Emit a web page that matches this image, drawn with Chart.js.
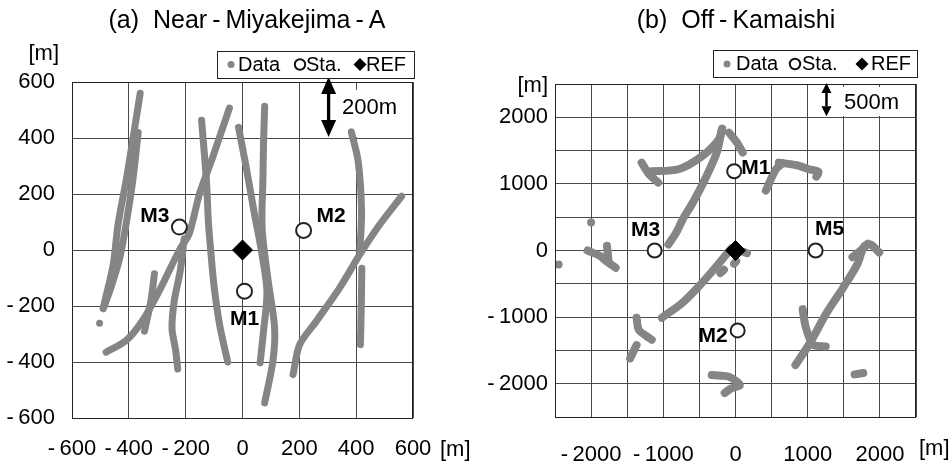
<!DOCTYPE html>
<html lang="en">
<head>
<meta charset="UTF-8">
<title>Near-Miyakejima-A / Off-Kamaishi</title>
<script src="https://cdn.jsdelivr.net/npm/chart.js"></script>
<style>
    body { margin: 0; background: #fff; }
    .panel { position: absolute; top: 0; width: 476px; height: 467px; }
    #panelA { left: 0; }
    #panelB { left: 476px; }
</style>
</head>
<body>
<div class="panel" id="panelA"><canvas id="chartA" width="476" height="467"></canvas></div>
<div class="panel" id="panelB"><canvas id="chartB" width="476" height="467"></canvas></div>

<script>
// ---------- data ----------
const legendLabels = ['Data', 'Sta.', 'REF'];

// (a) Near-Miyakejima-A
const titleA = '(a)  Near\u2009-\u2009Miyakejima\u2009-\u2009A';
const rangeA = { min: -600, max: 600, step: 200, labelStep: 200 };
const trackA1 = [[-360, 560], [-385, 400], [-408, 257], [-438, 91], [-455, -52], [-490, -207]];
const trackA2 = [[-367, 420], [-385, 257], [-408, 103], [-432, -28], [-465, -140], [-490, -210]];
const trackA3 = [[-480, -365], [-409, -323], [-351, -251], [-292, -144], [-222, 0], [-187, 60], [-151, 202], [-105, 331], [-46, 507]];
const trackA4 = [[-144, 463], [-127, 250], [-120, 100], [-112, 0], [-100, -130], [-80, -270], [-52, -400]];
const trackA5 = [[-205, 40], [-220, -80], [-240, -180], [-248, -280], [-235, -360], [-228, -425]];
const trackA6 = [[-310, -85], [-322, -180], [-345, -290]];
const trackA7 = [[-14, 438], [13, 296], [40, 140], [66, 0], [86, -147], [74, -290], [62, -403]];
const trackA8 = [[78, 513], [74, 380], [72, 257], [69, 79], [89, -100], [113, -278], [107, -397], [78, -546]];
const trackA9 = [[383, 422], [407, 317], [419, 138], [413, -5]];
const trackA10 = [[420, -65], [418, -200], [415, -338]];
const trackA11 = [[178, -445], [201, -338], [260, -254], [342, -135], [413, -16], [483, 91], [560, 192]];
const dotsA = [[-503, -262]];
const stationsA = [[7, -147], [215, 70], [-222, 82]];
const stationNamesA = ['M1', 'M2', 'M3'];
const refA = [[0, 0]];
const barA = { x: 303, from: 600, to: 400, label: '200m' };

// (b) Off-Kamaishi
const titleB = '(b)  Off\u2009-\u2009Kamaishi';
const rangeB = { min: -2500, max: 2500, step: 500, labelStep: 1000 };
const trackB1 = [[-930, 90], [-820, 270], [-730, 470], [-590, 720], [-400, 1120], [-260, 1470], [-190, 1820]];
const trackB2 = [[-1300, 1320], [-1200, 1150], [-1070, 1020]];
const trackB3 = [[-1170, 1190], [-790, 1220], [-460, 1420], [-230, 1670], [-185, 1830]];
const trackB4 = [[-90, 1770], [20, 1620], [100, 1470]];
const trackB5 = [[420, 900], [560, 1220], [650, 1310]];
const trackB6 = [[600, 1320], [850, 1280], [1020, 1220], [1150, 1180], [1120, 1110]];
const trackB7 = [[-60, 30], [-250, -220], [-500, -530], [-730, -780], [-1020, -1010]];
const trackB8 = [[-210, -340], [-160, -290]];
const trackB9 = [[-20, -200], [10, -160]];
const trackB10 = [[110, -20], [160, -40]];
const trackB11 = [[-2050, 0], [-1880, -80], [-1800, -150], [-1660, -260]];
const trackB12 = [[-1780, 70], [-1760, -140]];
const trackB13 = [[-1370, -1010], [-1340, -1190], [-1240, -1280], [-1160, -1340]];
const trackB14 = [[-1370, -1420], [-1460, -1620]];
const trackB15 = [[-330, -1870], [-200, -1880], [-80, -1900], [60, -2020], [-60, -2070], [-150, -2140]];
const trackB16 = [[830, -1720], [1030, -1390], [1260, -940], [1490, -560], [1690, -200], [1780, 60], [1870, 90], [1990, -30]];
const trackB17 = [[1620, -100], [1780, 40], [1830, 100]];
const trackB18 = [[930, -880], [970, -1140], [1030, -1330], [1080, -1420], [1250, -1440]];
const trackB19 = [[1650, -1860], [1770, -1840]];
const dotsB = [[-2000, 420], [-2450, -210]];
const stationsB = [[-18, 1190], [30, -1200], [-1120, 0], [1110, 0]];
const stationNamesB = ['M1', 'M2', 'M3', 'M5'];
const refB = [[0, 0]];
const barB = { x: 1260, from: 2500, to: 2000, label: '500m' };

// ---------- drawing ----------
const GRAY = '#858585';
const FONT = '"Liberation Sans", Arial, sans-serif';
Chart.defaults.font.family = FONT;
Chart.defaults.color = '#000';

function fmtTick(v) {
    return v < 0 ? '-\u2009' + (-v) : String(v);
}

function trackSet(points, width) {
    return {
        data: points, showLine: true, borderColor: GRAY, borderWidth: width,
        pointRadius: 0, tension: 0.3, borderCapStyle: 'round', borderJoinStyle: 'round'
    };
}

function axis(range, pad, fit) {
    return {
        type: 'linear', min: range.min, max: range.max,
        grid: { color: '#4a4a4a', lineWidth: 1, drawTicks: false },
        border: { display: false },
        ticks: {
            stepSize: range.step, autoSkip: false, maxRotation: 0, padding: pad,
            font: { size: 22 }, color: '#000',
            callback: v => (v % range.labelStep === 0) ? fmtTick(v) : ''
        },
        afterFit: fit
    };
}

function drawArrowHead(ctx, x, tipY, baseY, half) {
    ctx.beginPath();
    ctx.moveTo(x, tipY);
    ctx.lineTo(x - half, baseY);
    ctx.lineTo(x + half, baseY);
    ctx.closePath();
    ctx.fill();
}

function overlay(cfg) {
    return {
        id: 'overlay',
        beforeDatasetsDraw(chart) {
            const ctx = chart.ctx;
            ctx.save();
            ctx.fillStyle = '#fff';
            ctx.fillRect(cfg.barBox[0], cfg.barBox[1], cfg.barBox[2], cfg.barBox[3]);
            ctx.restore();
        },
        afterDatasetsDraw(chart) {
            const { ctx, chartArea: a, scales } = chart;
            ctx.save();
            // plot frame
            ctx.strokeStyle = '#222';
            ctx.lineWidth = 1;
            ctx.strokeRect(a.left + 0.5, a.top + 0.5, a.right - a.left - 1, a.bottom - a.top);

            // scale bar arrow
            const bx = scales.x.getPixelForValue(cfg.bar.x);
            const by1 = scales.y.getPixelForValue(cfg.bar.from) - cfg.arrow.over;
            const by2 = scales.y.getPixelForValue(cfg.bar.to) - 1;
            ctx.fillStyle = '#000';
            ctx.strokeStyle = '#000';
            ctx.lineWidth = cfg.arrow.lw;
            ctx.beginPath();
            ctx.moveTo(bx, by1 + cfg.arrow.head);
            ctx.lineTo(bx, by2 - cfg.arrow.head);
            ctx.stroke();
            drawArrowHead(ctx, bx, by1, by1 + cfg.arrow.head, cfg.arrow.half);
            drawArrowHead(ctx, bx, by2, by2 - cfg.arrow.head, cfg.arrow.half);
            ctx.font = '22px ' + FONT;
            ctx.textAlign = 'left';
            ctx.textBaseline = 'middle';
            ctx.fillText(cfg.bar.label, cfg.barText[0], cfg.barText[1]);

            // station names
            ctx.font = 'bold 21px ' + FONT;
            cfg.names.forEach((n, i) => {
                const o = cfg.nameOffsets[n];
                const px = scales.x.getPixelForValue(cfg.stations[i][0]);
                const py = scales.y.getPixelForValue(cfg.stations[i][1]);
                ctx.textAlign = o[2];
                ctx.fillText(n, px + o[0], py + o[1]);
            });
            ctx.restore();
        },
        afterDraw(chart) {
            const ctx = chart.ctx;
            ctx.save();
            ctx.fillStyle = '#000';
            // title
            ctx.font = '25px ' + FONT;
            ctx.textAlign = 'center';
            ctx.textBaseline = 'middle';
            ctx.fillText(cfg.title, cfg.titlePos[0], cfg.titlePos[1]);
            // unit labels
            ctx.font = '22px ' + FONT;
            ctx.textAlign = 'right';
            ctx.fillText('[m]', cfg.yUnit[0], cfg.yUnit[1]);
            ctx.textAlign = 'left';
            ctx.fillText('[m]', cfg.xUnit[0], cfg.xUnit[1]);

            // legend
            const L = cfg.legend;
            ctx.fillStyle = '#fff';
            ctx.fillRect(L.box[0], L.box[1], L.box[2], L.box[3]);
            ctx.strokeStyle = '#222';
            ctx.lineWidth = 1;
            ctx.strokeRect(L.box[0] + 0.5, L.box[1] + 0.5, L.box[2], L.box[3]);
            const cy = L.cy;
            ctx.fillStyle = GRAY;
            ctx.beginPath();
            ctx.arc(L.marks[0], cy, 3.5, 0, Math.PI * 2);
            ctx.fill();
            ctx.strokeStyle = '#111';
            ctx.lineWidth = 2;
            ctx.beginPath();
            ctx.arc(L.marks[1], cy, 5.2, 0, Math.PI * 2);
            ctx.stroke();
            ctx.fillStyle = '#000';
            ctx.beginPath();
            ctx.moveTo(L.marks[2], cy - 6.5);
            ctx.lineTo(L.marks[2] + 6.5, cy);
            ctx.lineTo(L.marks[2], cy + 6.5);
            ctx.lineTo(L.marks[2] - 6.5, cy);
            ctx.closePath();
            ctx.fill();
            ctx.font = '20px ' + FONT;
            ctx.textAlign = 'left';
            legendLabels.forEach((t, i) => ctx.fillText(t, L.texts[i], cy + 0.5));
            ctx.restore();
        }
    };
}

function buildChart(id, tracks, width, dots, stations, ref, refRadius, staRadius, range, layout, cfg) {
    const datasets = [
        { data: ref, pointStyle: 'rectRot', pointRadius: refRadius, backgroundColor: '#000', borderColor: '#000', borderWidth: 1, showLine: false },
        { data: stations, pointStyle: 'circle', pointRadius: staRadius, backgroundColor: '#fff', borderColor: '#222', borderWidth: 2, showLine: false },
        { data: dots, pointStyle: 'circle', pointRadius: width / 2, backgroundColor: GRAY, borderWidth: 0, showLine: false }
    ].concat(tracks.map(t => trackSet(t, width)));

    return new Chart(document.getElementById(id), {
        type: 'scatter',
        data: { datasets: datasets },
        options: {
            responsive: false,
            animation: false,
            events: [],
            layout: { padding: layout.padding },
            plugins: { legend: { display: false }, tooltip: { enabled: false }, title: { display: false } },
            scales: {
                x: axis(range, layout.xPad, s => { s.height = layout.xH; }),
                y: axis(range, layout.yPad, s => { s.width = layout.yW; })
            }
        },
        plugins: [overlay(cfg)]
    });
}

buildChart('chartA',
    [trackA1, trackA2, trackA3, trackA4, trackA5, trackA6, trackA7, trackA8, trackA9, trackA10, trackA11],
    7, dotsA, stationsA, refA, 10, 7.5, rangeA,
    { padding: { top: 82, right: 63, bottom: 0, left: 0 }, xH: 49, yW: 72, xPad: 18, yPad: 17 },
    {
        title: titleA, titlePos: [247, 21],
        yUnit: [59, 54], xUnit: [440, 450],
        bar: barA, barBox: [339, 90, 73, 47], barText: [342, 108],
        arrow: { over: 5, head: 17, half: 7.5, lw: 3.3 },
        stations: stationsA, names: stationNamesA,
        nameOffsets: { M1: [0, 28, 'center'], M2: [13, -14, 'left'], M3: [-10, -11, 'right'] },
        legend: { box: [217, 51, 197, 27], cy: 64.5, marks: [231, 300, 360], texts: [238, 306, 366] }
    });

buildChart('chartB',
    [trackB1, trackB2, trackB3, trackB4, trackB5, trackB6, trackB7, trackB8, trackB9, trackB10, trackB11,
     trackB12, trackB13, trackB14, trackB15, trackB16, trackB17, trackB18, trackB19],
    8, dotsB, stationsB, refB, 10, 7, rangeB,
    { padding: { top: 84, right: 36, bottom: 0, left: 0 }, xH: 50, yW: 79, xPad: 25, yPad: 7 },
    {
        title: titleB, titlePos: [260, 21],
        yUnit: [72, 86], xUnit: [443, 449],
        bar: barB, barBox: [362, 87, 77, 29], barText: [368, 103],
        arrow: { over: 1, head: 10, half: 5, lw: 2.5 },
        stations: stationsB, names: stationNamesB,
        nameOffsets: { M1: [7, -3, 'left'], M2: [-10, 6, 'right'], M3: [-9, -20, 'center'], M5: [14, -21, 'center'] },
        legend: { box: [237, 50, 204, 27], cy: 64, marks: [251, 319, 386], texts: [260, 326, 395] }
    });
</script>
</body>
</html>
